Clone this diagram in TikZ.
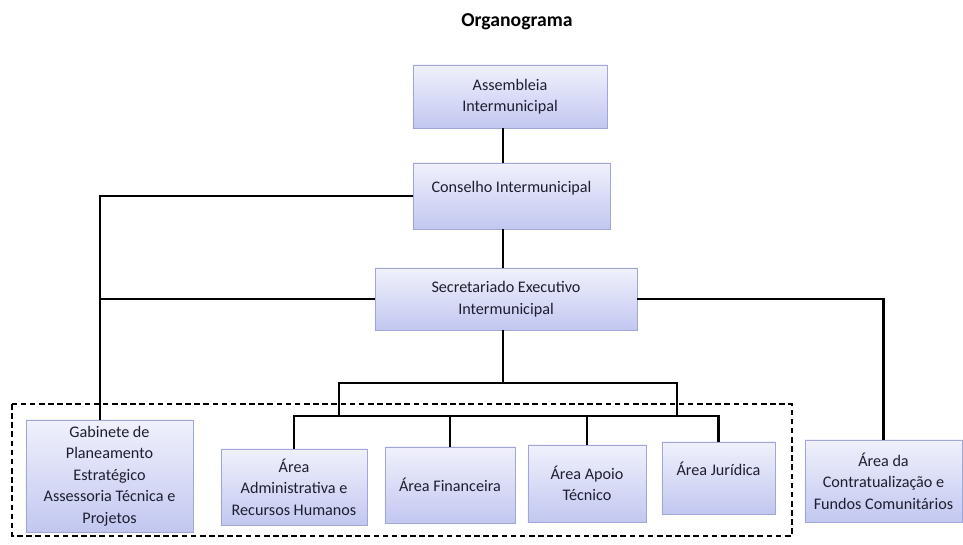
\documentclass[tikz,border=0pt]{standalone}
\usepackage{fontspec}
\setmainfont{Carlito}
\definecolor{boxtop}{RGB}{240,241,252}
\definecolor{boxbot}{RGB}{194,199,240}
\definecolor{boxedge}{RGB}{160,166,214}
\definecolor{boxtext}{RGB}{30,30,48}

\begin{document}
\begin{tikzpicture}[x=0.025cm, y=-0.025cm,
        box/.style={draw=boxedge, line width=0.4pt, top color=boxtop, bottom color=boxbot,
            align=center, inner sep=1pt, text=boxtext, font=\fontsize{11.5}{15.3}\selectfont},
        link/.style={line width=1.6pt, black}]
        \useasboundingbox (0,0) rectangle (963,545);
        \node[font=\fontsize{14}{16}\selectfont\bfseries] (title) at (517,22) {Organograma};
        \node[box, minimum width=4.85cm, minimum height=1.575cm] (asm) at (510,96.5) {Assembleia\\Intermunicipal};
        \node[box, minimum width=4.925cm, minimum height=1.65cm, text depth=0.45cm] (cons) at (511.5,196) {Conselho Intermunicipal};
        \node[box, minimum width=6.55cm, minimum height=1.55cm] (sec) at (506,299) {Secretariado Executivo\\Intermunicipal};
        \node[box, minimum width=4.175cm, minimum height=2.8cm] (gab) at (109.5,476) {Gabinete de\\Planeamento\\Estratégico\\Assessoria Técnica e\\Projetos};
        \node[box, minimum width=3.65cm, minimum height=1.9cm] (adm) at (294,487) {Área\\Administrativa e\\Recursos Humanos};
        \node[box, minimum width=3.25cm, minimum height=1.9cm] (fin) at (450,485) {Área Financeira};
        \node[box, minimum width=2.95cm, minimum height=1.925cm] (apo) at (587,483.5) {Área Apoio\\Técnico};
        \node[box, minimum width=2.825cm, minimum height=1.8cm, text depth=0.45cm] (jur) at (718.5,478) {Área Jurídica};
        \node[box, minimum width=3.925cm, minimum height=2.05cm] (con) at (883.5,481) {Área da\\Contratualização e\\Fundos Comunitários};
        \coordinate (spine) at (503,0);
        \coordinate (lft) at (100,0);
        \coordinate (ul) at (339,383);
        \coordinate (ur) at (677,383);
        \coordinate (bar) at (0,416);
        \draw[link] (asm.south -| spine) -- (cons.north -| spine);
        \draw[link] (cons.south -| spine) -- (sec.north -| spine);
        \draw[link] (cons.west) -| (gab.north -| lft);
        \draw[link] (sec.west) -- (sec.west -| lft);
        \draw[link] (sec.east) -| (con.north);
        \draw[link] (sec.south -| spine) -- (spine |- ul);
        \draw[link] (ul |- bar) -- (ul) -- (ur) -- (ur |- bar);
        \draw[link] (adm.north) -- (adm.north |- bar) -- (jur.north |- bar) -- (jur.north);
        \foreach \b in {fin,apo}
            \draw[link] (\b.north) -- (\b.north |- bar);
        \draw[dash pattern=on 4pt off 2.5pt, line width=1pt] (12,404) rectangle (792,536);
    \end{tikzpicture}
\end{document}
